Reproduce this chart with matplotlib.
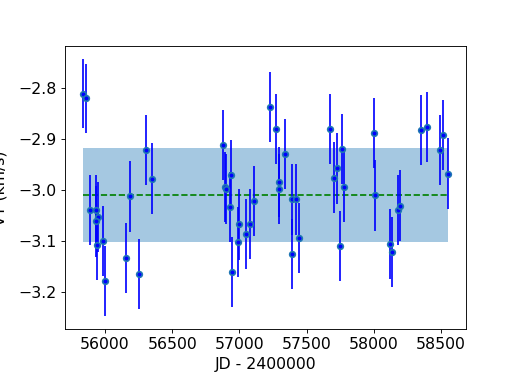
import numpy as np
import matplotlib
matplotlib.use('Agg')
import matplotlib.pyplot as plt

# observation epochs (JD - 2400000) and velocities
jd = [55836, 55856, 55886, 55935, 55946, 55931, 55940, 55987, 56002, 56184,
      56154, 56251, 56308, 56348, 56876, 56894, 56901, 56936, 56931, 56948,
      56996, 56993, 57050, 57078, 57112, 57231, 57273, 57294, 57294, 57340,
      57390, 57420, 57395, 57440, 57673, 57703, 57726, 57763, 57782, 57745,
      58003, 58010, 58120, 58137, 58182, 58197, 58353, 58398, 58493, 58517,
      58552]
vt = [-2.811, -2.820, -3.039, -3.040, -3.054, -3.062, -3.108, -3.100, -3.179, -3.013,
      -3.134, -3.165, -2.922, -2.978, -2.912, -2.994, -2.999, -2.971, -3.034, -3.162,
      -3.068, -3.103, -3.087, -3.067, -3.022, -2.837, -2.881, -2.985, -2.999, -2.929,
      -3.019, -3.019, -3.126, -3.095, -2.881, -2.976, -2.958, -2.920, -2.995, -3.111,
      -2.888, -3.011, -3.106, -3.122, -3.040, -3.031, -2.883, -2.877, -2.922, -2.892,
      -2.968]
err = [0.068, 0.068, 0.069, 0.069, 0.069, 0.069, 0.069, 0.069, 0.069, 0.069,
       0.069, 0.069, 0.069, 0.069, 0.069, 0.069, 0.069, 0.069, 0.069, 0.069,
       0.069, 0.069, 0.069, 0.069, 0.069, 0.069, 0.069, 0.069, 0.069, 0.069,
       0.069, 0.069, 0.069, 0.069, 0.069, 0.069, 0.069, 0.069, 0.069, 0.069,
       0.069, 0.070, 0.069, 0.069, 0.069, 0.069, 0.069, 0.069, 0.069, 0.069,
       0.069]

mean_vt = -3.010
std_vt = 0.092

plt.rcParams['font.size'] = 14

fig, ax = plt.subplots(figsize=(6.4, 4.8), dpi=80.94)
fig.subplots_adjust(left=0.125, right=0.9, top=0.88, bottom=0.152)

xr = [min(jd), max(jd)]
ax.fill_between(xr, mean_vt - std_vt, mean_vt + std_vt, color='C0', alpha=0.4, lw=0)
ax.plot(xr, [mean_vt, mean_vt], 'g--')
ax.errorbar(jd, vt, yerr=err, fmt='o', color='blue', ms=5,
            mec='#1f77b4', mew=1.5)

ax.set_xlabel('JD - 2400000')
ax.set_ylabel('VT (km/s)', labelpad=10)

fig.savefig('out.png')
